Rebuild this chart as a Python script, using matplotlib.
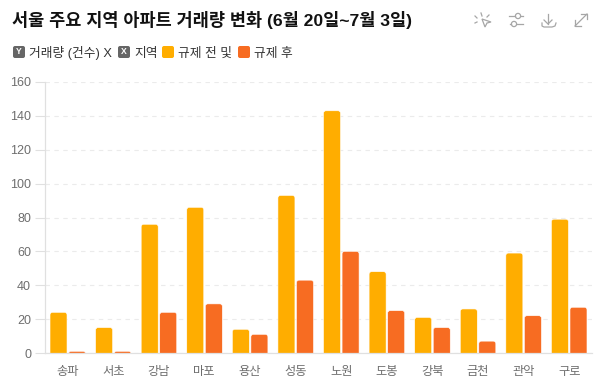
import matplotlib
matplotlib.use("Agg")
import matplotlib.pyplot as plt
from matplotlib.patches import FancyBboxPatch, Circle, Polygon

plt.rcParams['font.family'] = ['Liberation Sans', 'Noto Sans CJK KR', 'DejaVu Sans']

districts = ["송파", "서초", "강남", "마포", "용산", "성동", "노원", "도봉", "강북", "금천", "관악", "구로"]
before = [24, 15, 76, 86, 14, 93, 143, 48, 21, 26, 59, 79]
after = [1, 1, 24, 29, 11, 43, 60, 25, 15, 7, 22, 27]
yticks = [0, 20, 40, 60, 80, 100, 120, 140, 160]

title = "서울 주요 지역 아파트 거래량 변화 (6월 20일~7월 3일)"
y_label = "거래량 (건수) X"
x_label = "지역"
before_label = "규제 전 및"
after_label = "규제 후"

ORANGE = "#ffad00"
RED = "#f76c22"
W, H = 600, 377

fig = plt.figure(figsize=(6, 3.77), dpi=100)
ax = fig.add_axes([45 / W, 1 - 353 / H, (592 - 45) / W, (353 - 82) / H])
ax.set_xlim(-0.5, 11.5)
ax.set_ylim(0, 160)

# rounded top corners, bottoms get clipped by the axes
bar_w = 0.373
radius = 0.055
aspect = 26.9
for i in range(len(districts)):
    for x0, v, c in [(i - 0.39, before[i], ORANGE), (i + 0.017, after[i], RED)]:
        low = radius * aspect
        ax.add_patch(FancyBboxPatch((x0, -low), bar_w, v + low,
                                    boxstyle="round,pad=0,rounding_size=%f" % radius,
                                    mutation_aspect=aspect, fc=c, ec="white", lw=0.4, zorder=3))

ax.set_yticks(yticks)
ax.set_xticks(range(len(districts)))
ax.set_xticklabels(districts)
ax.tick_params(axis='x', length=0, pad=9, labelsize=8.8, labelcolor="#6e6e6e")
ax.tick_params(axis='y', length=7, width=0.8, color="#e0e0e0", pad=3, labelsize=9, labelcolor="#6e6e6e")
ax.grid(axis='y', color="#ebebeb", lw=0.8, ls=(0, (4, 4)), zorder=0)
for s in ['top', 'right']:
    ax.spines[s].set_visible(False)
for s in ['left', 'bottom']:
    ax.spines[s].set_color("#e0e0e0")
    ax.spines[s].set_linewidth(0.9)
    ax.spines[s].set_zorder(4)

# header drawn on a pixel-sized overlay
ov = fig.add_axes([0, 0, 1, 1], zorder=5)
ov.set_xlim(0, W)
ov.set_ylim(H, 0)
ov.axis('off')
ov.patch.set_alpha(0)

ov.text(12, 26, title, fontsize=12.6, fontweight='bold', color="#111111", va='baseline', ha='left')

def badge(x, letter):
    ov.add_patch(FancyBboxPatch((x, 46), 12, 12, boxstyle="round,pad=0,rounding_size=2", fc="#666666", ec="none"))
    ov.text(x + 6, 52, letter, fontsize=6.2, fontweight='bold', color="white", ha='center', va='center')

def swatch(x, c):
    ov.add_patch(FancyBboxPatch((x, 46), 12, 12, boxstyle="round,pad=0,rounding_size=2", fc=c, ec="none"))

badge(13, "Y")
ov.text(29, 57, y_label, fontsize=9.2, color="#333333", va='baseline')
badge(118, "X")
ov.text(134, 57, x_label, fontsize=9.2, color="#333333", va='baseline')
swatch(162, ORANGE)
ov.text(178, 57, before_label, fontsize=9.2, color="#333333", va='baseline')
swatch(238, RED)
ov.text(254, 57, after_label, fontsize=9.2, color="#333333", va='baseline')

# toolbar icons
icon = dict(color="#a6a6a6", lw=0.9)
for p in [((481, 13), (482, 16)), ((475, 16), (477, 18)), ((489, 15), (487, 17)), ((475, 23), (477, 22))]:
    ov.plot(*zip(*p), **icon)
ov.add_patch(Polygon([(482, 19), (491, 22), (487, 23), (485, 27)], fc="none", ec="#a6a6a6", lw=0.9))
ov.plot([509, 515], [16, 16], **icon)
ov.plot([521, 523], [16, 16], **icon)
ov.add_patch(Circle((518, 16), 2.6, fc="none", ec="#a6a6a6", lw=0.9))
ov.plot([510, 511], [24, 24], **icon)
ov.plot([517, 523], [24, 24], **icon)
ov.add_patch(Circle((514, 24), 2.6, fc="none", ec="#a6a6a6", lw=0.9))
ov.plot([548, 548], [14, 24], **icon)
ov.plot([544, 548, 552], [20, 24, 20], **icon)
ov.plot([542, 542, 544, 552, 555, 556], [23, 26, 27, 27, 26, 23], **icon)
ov.plot([575, 587], [26, 14], **icon)
ov.plot([581, 587, 587], [14, 14, 19], **icon)
ov.plot([575, 575, 581], [20, 26, 26], **icon)

fig.savefig("out.png", dpi=100, facecolor="white")
